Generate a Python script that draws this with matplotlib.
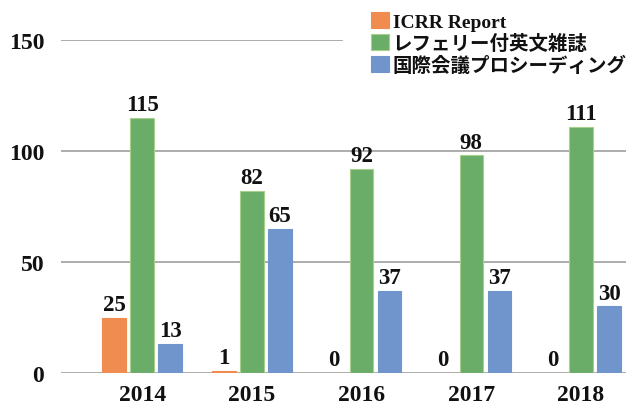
import matplotlib
matplotlib.use("Agg")
import matplotlib.pyplot as plt
import numpy as np

years = ["2014", "2015", "2016", "2017", "2018"]
icrr_report = [25, 1, 0, 0, 0]
refereed_journal = [115, 82, 92, 98, 111]
proceedings = [13, 65, 37, 37, 30]

series_names = ["ICRR Report", "レフェリー付英文雑誌", "国際会議プロシーディング"]
colors = ["#f08c4f", "#69ad68", "#6f95cc"]
edge_colors = ["#f08c4f", "#a8d08d", "#6f95cc"]

plt.rcParams['font.family'] = ['Liberation Serif', 'Noto Sans CJK JP']
plt.rcParams['font.weight'] = 'bold'

fig = plt.figure(figsize=(6.37, 4.06), dpi=100)
ax = fig.add_axes([61/637, 32/406, 565/637, 333/406])

x = np.arange(len(years))
width = 0.215
step = 0.256

for k, (vals, name) in enumerate(zip([icrr_report, refereed_journal, proceedings], series_names)):
    bars = ax.bar(x + (k - 1)*step, vals, width, color=colors[k],
                  edgecolor=edge_colors[k], linewidth=0.8, label=name, zorder=3)
    ax.bar_label(bars, padding=2, fontsize=16.5, fontweight='bold', color='#111111')

ax.set_ylim(0, 150)
ax.set_xlim(-0.74, 4.41)
ax.set_yticks([0, 50, 100, 150])
ax.set_xticks(x)
ax.set_xticklabels(years)
ax.tick_params(axis='both', length=0, labelsize=17, colors='#111111')
ax.tick_params(axis='y', pad=12)
ax.tick_params(axis='x', pad=8)
ax.grid(axis='y', color='#a6a6a6', linewidth=1.3, zorder=0)
ax.set_axisbelow(True)
for s in ax.spines.values():
    s.set_visible(False)

leg = fig.legend(loc='upper left', bbox_to_anchor=(343/637, 1 + 15/406),
                 fontsize=14, frameon=True, framealpha=1, edgecolor='white',
                 facecolor='white', fancybox=False, borderpad=1.45,
                 handlelength=0.9, handleheight=0.9, handletextpad=0.2,
                 labelspacing=0.15, borderaxespad=0)
for t in leg.get_texts():
    t.set_fontweight('bold')
    t.set_color('#111111')

fig.savefig("out.png", dpi=100)
